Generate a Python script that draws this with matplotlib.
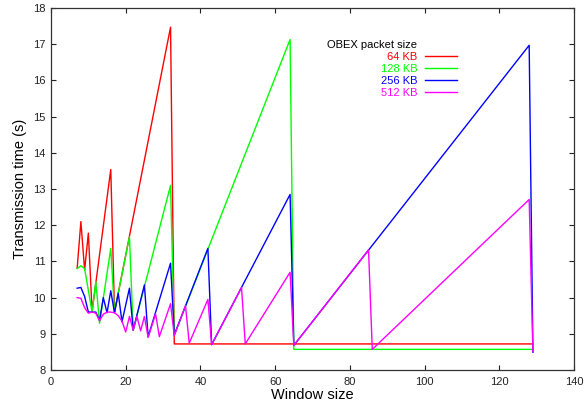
import matplotlib.pyplot as plt
from matplotlib.lines import Line2D

plt.rcParams['font.family'] = ['Liberation Sans', 'DejaVu Sans']

# window sizes / transmission times (vertices)
w_64 = [7, 8, 9, 10, 11, 16, 17, 32, 33, 129]
t_64 = [10.81, 12.10, 10.76, 11.78, 9.62, 13.54, 9.6, 17.47, 8.72, 8.72]

w_128 = [7, 8, 9, 10, 11, 12, 13, 16, 17, 21, 22, 32, 33, 64, 65, 129]
t_128 = [10.8, 10.88, 10.8, 10.2, 9.6, 10.44, 9.29, 11.36, 9.6, 11.68,
         9.1, 13.1, 8.97, 17.13, 8.57, 8.57]

w_256 = [7, 8, 9, 10, 11, 12, 13, 14, 15, 16, 17, 18, 19, 21, 22, 25, 26,
         32, 33, 42, 43, 64, 65, 128, 129]
t_256 = [10.26, 10.28, 10.03, 9.6, 9.6, 9.6, 9.37, 10.0, 9.58, 10.19, 9.58,
         10.12, 9.33, 10.26, 9.1, 10.35, 8.92, 10.95, 8.97, 11.36, 8.7,
         12.85, 8.68, 16.97, 8.49]

w_512 = [7, 8, 9, 10, 11, 12, 13, 14, 15, 16, 17, 18, 19, 20, 21, 22, 23,
         24, 25, 26, 28, 29, 32, 33, 36, 37, 42, 43, 51, 52, 64, 65, 85, 86,
         128, 129]
t_512 = [10.0, 9.98, 9.72, 9.57, 9.6, 9.57, 9.36, 9.54, 9.6, 9.6, 9.58, 9.5,
         9.35, 9.05, 9.48, 9.1, 9.48, 9.08, 9.48, 8.9, 9.55, 8.92, 9.83, 8.95,
         9.78, 8.74, 9.95, 8.7, 10.28, 8.72, 10.7, 8.68, 11.32, 8.57, 12.71,
         8.5]

series = [
    ("64 KB", w_64, t_64, "#ff0000"),
    ("128 KB", w_128, t_128, "#00ff00"),
    ("256 KB", w_256, t_256, "#0000ff"),
    ("512 KB", w_512, t_512, "#ff00ff"),
]

fig = plt.figure(figsize=(5.84, 4.08), dpi=100)
ax = fig.add_axes([51 / 584, 38 / 408, 523 / 584, 362 / 408])

handles = [Line2D([], [], color="none")]
labels = ["OBEX packet size"]
for name, w, t, c in series:
    line, = ax.plot(w, t, color=c, lw=1.0)
    handles.append(line)
    labels.append(name)

ax.set_xlim(0, 140)
ax.set_ylim(8, 18)
ax.set_xticks(range(0, 141, 20))
ax.set_yticks(range(8, 19))
ax.tick_params(direction="in", top=True, right=True, length=3.6,
               width=0.8, labelsize=8, colors="#222222")
ax.tick_params(axis="x", pad=5)
ax.tick_params(axis="y", pad=4)
for s in ax.spines.values():
    s.set_linewidth(0.9)
    s.set_color("#333333")

ax.set_xlabel("Window size", fontsize=10.5, labelpad=1)
ax.set_ylabel("Transmission time (s)", fontsize=10.5, labelpad=4)

# gnuplot-style key: title row + right-aligned coloured labels
leg = ax.legend(handles, labels, loc="upper right",
                bbox_to_anchor=(0.776, 0.912), frameon=False,
                markerfirst=False, fontsize=8, labelspacing=0.18,
                handlelength=2.9, handletextpad=0.66, borderpad=0,
                borderaxespad=0)
leg.get_texts()[0].set_color("black")
for txt, (name, w, t, c) in zip(leg.get_texts()[1:], series):
    txt.set_color(c)

fig.savefig("out.png", dpi=100)
